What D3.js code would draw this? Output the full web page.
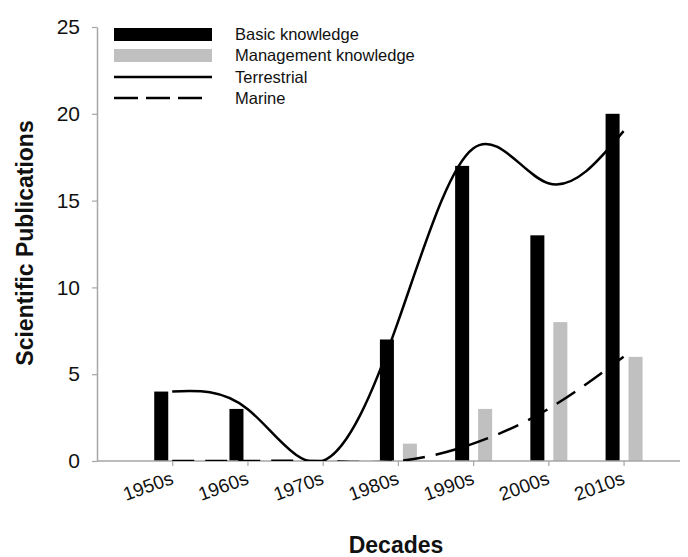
<!DOCTYPE html>
<html>
<head>
<meta charset="utf-8">
<script src="https://cdn.jsdelivr.net/npm/d3@7/dist/d3.min.js"></script>
<style>
  html, body { margin: 0; padding: 0; background: #fff; }
  svg { display: block; font-family: Arial, "Liberation Sans", sans-serif; }
</style>
</head>
<body>
<svg id="chart" width="688" height="557"></svg>
<script>
// ---- data ----
const decades = [1950, 1960, 1970, 1980, 1990, 2000, 2010];
const decadeLabels = ["1950s", "1960s", "1970s", "1980s", "1990s", "2000s", "2010s"];
const basicKnowledge = [4, 3, 0, 7, 17, 13, 20];
const managementKnowledge = [0, 0, 0, 1, 3, 8, 6];
const terrestrial = [4, 3, 0, 8, 18, 16, 19];
const marine = [0, 0, 0, 0, 1, 3, 6];
const yTicks = [0, 5, 10, 15, 20, 25];
const legendLabels = ["Basic knowledge", "Management knowledge", "Terrestrial", "Marine"];

// ---- layout ----
const svg = d3.select("#chart");
const pLeft = 97, pRight = 680, pTop = 27, pBottom = 461;

const x = d3.scaleLinear().domain([1940, 2017.5]).range([pLeft, pRight]);
const y = d3.scaleLinear().domain([0, 25]).range([pBottom, pTop]);
const sub = d3.scaleBand().domain(["basic", "mgmt"]).range([-18, 19]).paddingInner(0.39);

const axisColor = "#a6a6a6";

// clip for curves
svg.append("defs").append("clipPath").attr("id", "plotclip")
  .append("rect").attr("x", pLeft).attr("y", pTop - 5)
  .attr("width", pRight - pLeft).attr("height", pBottom - pTop + 5);

// bars
const barData = decades.map((d, i) => ({ d, basic: basicKnowledge[i], mgmt: managementKnowledge[i] }));
const g = svg.append("g");
["basic", "mgmt"].forEach(key => {
  g.selectAll("rect." + key).data(barData).enter().append("rect")
    .attr("class", key)
    .attr("x", d => x(d.d) + sub(key))
    .attr("width", sub.bandwidth())
    .attr("y", d => y(d[key]))
    .attr("height", d => y(0) - y(d[key]))
    .attr("fill", key === "basic" ? "#000" : "#c0c0c0");
});

// axes
const xAxis = svg.append("g").attr("transform", `translate(0,${pBottom})`)
  .call(d3.axisBottom(x).tickValues(decades).tickSize(5).tickSizeOuter(0)
    .tickFormat((d, i) => decadeLabels[i]));
xAxis.select(".domain").attr("stroke", axisColor).attr("stroke-width", 1.5)
  .attr("d", `M${pLeft},0H${pRight}`);
xAxis.selectAll(".tick line").attr("stroke", axisColor).attr("stroke-width", 1.2);
xAxis.selectAll(".tick text")
  .attr("font-size", 19).attr("fill", "#111")
  .attr("text-anchor", "end")
  .attr("dy", "0.75em")
  .attr("y", 0)
  .attr("transform", "translate(-3,9) rotate(-20)");

const yAxis = svg.append("g").attr("transform", `translate(${pLeft},0)`)
  .call(d3.axisLeft(y).tickValues(yTicks).tickSize(5).tickSizeOuter(0).tickPadding(12));
yAxis.select(".domain").attr("stroke", axisColor).attr("stroke-width", 1.5);
yAxis.selectAll(".tick line").attr("stroke", axisColor).attr("stroke-width", 1.2);
yAxis.selectAll(".tick text").attr("font-size", 21).attr("fill", "#111");

// curves
const line = d3.line().x((d, i) => x(decades[i])).y(d => y(d)).curve(d3.curveNatural);
const curves = svg.append("g").attr("clip-path", "url(#plotclip)");
curves.append("path").datum(terrestrial).attr("d", line)
  .attr("fill", "none").attr("stroke", "#000").attr("stroke-width", 2.5);
curves.append("path").datum(marine).attr("d", line)
  .attr("fill", "none").attr("stroke", "#000").attr("stroke-width", 2.5)
  .attr("stroke-dasharray", "22,11");

// axis titles
svg.append("text").attr("x", 396).attr("y", 553)
  .attr("text-anchor", "middle").attr("font-size", 23).attr("font-weight", "bold")
  .attr("fill", "#111").text("Decades");
svg.append("text").attr("transform", "translate(33,243) rotate(-90)")
  .attr("text-anchor", "middle").attr("font-size", 23).attr("font-weight", "bold")
  .attr("fill", "#111").text("Scientific Publications");

// legend
const lg = svg.append("g");
const ly = [34.5, 55.5, 77, 98];
const lx0 = 114, lx1 = 212;
lg.append("rect").attr("x", lx0).attr("y", ly[0] - 6.5).attr("width", lx1 - lx0).attr("height", 13).attr("fill", "#000");
lg.append("rect").attr("x", lx0).attr("y", ly[1] - 6.5).attr("width", lx1 - lx0).attr("height", 13).attr("fill", "#c0c0c0");
lg.append("line").attr("x1", lx0).attr("x2", lx1).attr("y1", ly[2]).attr("y2", ly[2])
  .attr("stroke", "#000").attr("stroke-width", 2.5);
lg.append("line").attr("x1", lx0).attr("x2", lx1 - 10).attr("y1", ly[3]).attr("y2", ly[3])
  .attr("stroke", "#000").attr("stroke-width", 2.5).attr("stroke-dasharray", "24,8");
legendLabels.forEach((t, i) => {
  lg.append("text").attr("x", 235).attr("y", ly[i]).attr("dy", "0.36em")
    .attr("font-size", 16.5).attr("fill", "#111").text(t);
});
</script>
</body>
</html>
